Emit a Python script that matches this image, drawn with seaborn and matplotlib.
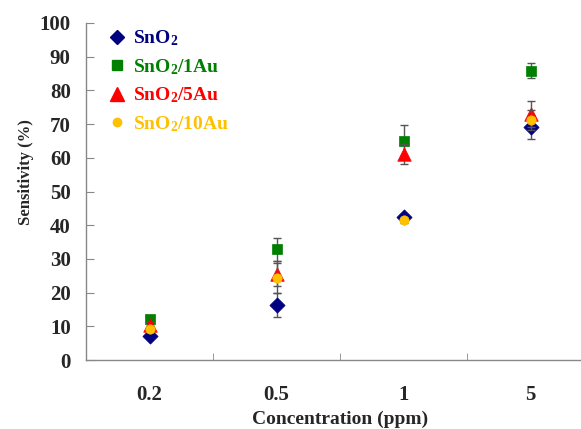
import matplotlib
matplotlib.use("Agg")
import matplotlib.pyplot as plt
import seaborn as sns
import pandas as pd
from matplotlib.lines import Line2D

categories = ["0.2", "0.5", "1", "5"]
series_names = ["SnO$_2$", "SnO$_2$/1Au", "SnO$_2$/5Au", "SnO$_2$/10Au"]
sno2 = [7.2, 16.3, 42.4, 69.0]
sno2_err = [0.8, 3.5, 0.8, 3.4]
au1 = [12.1, 32.8, 65.1, 85.8]
au1_err = [0.8, 3.5, 4.7, 2.2]
au5 = [10.5, 25.6, 61.2, 73.0]
au5_err = [0.8, 3.7, 3.0, 3.9]
au10 = [9.2, 24.3, 41.4, 71.2]
au10_err = [0.8, 4.5, 0.8, 3.0]

colors = ["#000080", "#008000", "#FF0000", "#FFC000"]
markers = ["D", "s", "^", "o"]
msizes = [60, 55, 95, 45]

sns.set_style("white")
plt.rcParams["font.family"] = ["Liberation Serif", "DejaVu Serif"]
plt.rcParams["font.weight"] = "bold"
plt.rcParams["mathtext.default"] = "regular"

rows = []
for name, vals, errs in zip(series_names, [sno2, au1, au5, au10],
                            [sno2_err, au1_err, au5_err, au10_err]):
    for c, v, e in zip(categories, vals, errs):
        rows.append({"Concentration": c, "Sensitivity": v, "err": e, "series": name})
df = pd.DataFrame(rows)

fig = plt.figure(figsize=(5.81, 4.29), dpi=100)
ax = fig.add_axes([86/581, 69/429, 508/581, 337/429])

for i, name in enumerate(series_names):
    sub = df[df["series"] == name]
    xpos = [categories.index(c) for c in sub["Concentration"]]
    ax.errorbar(xpos, sub["Sensitivity"], yerr=sub["err"], fmt="none",
                ecolor="#555555", elinewidth=1.0, capsize=3, capthick=1.0,
                zorder=2 + 2 * i)
    sns.scatterplot(data=sub, x="Concentration", y="Sensitivity", ax=ax,
                    marker=markers[i], color=colors[i], s=msizes[i],
                    edgecolor=colors[i], linewidth=0.5, zorder=3 + 2 * i,
                    legend=False)

ax.set_xlim(-0.5, len(categories) - 0.5)
ax.set_ylim(0, 100)
ax.set_yticks(range(0, 101, 10))
ax.set_xticks(range(len(categories)))
ax.set_xticklabels(categories)
ax.set_xticks([k + 0.5 for k in range(len(categories) - 1)], minor=True)

for s in ["top", "right"]:
    ax.spines[s].set_visible(False)
for s in ["left", "bottom"]:
    ax.spines[s].set_color("#888888")
    ax.spines[s].set_linewidth(1.0)

ax.tick_params(axis="y", direction="in", length=6, color="#888888",
               labelsize=15, pad=11, left=True)
ax.tick_params(axis="x", which="major", length=0, labelsize=15, pad=18)
ax.tick_params(axis="x", which="minor", direction="in", length=5,
               color="#888888", bottom=True)
for lab in ax.get_xticklabels() + ax.get_yticklabels():
    lab.set_fontweight("bold")

ax.set_xlabel("Concentration (ppm)", fontsize=14, fontweight="bold", labelpad=4)
ax.set_ylabel("Sensitivity (%)", fontsize=12, fontweight="bold")
ax.yaxis.set_label_coords(-0.103, 0.558)

handles = [Line2D([], [], linestyle="none", marker=m, color=c,
                  markersize=ms, markeredgecolor=c)
           for m, c, ms in zip(markers, colors, [7, 7, 10, 6])]
leg = ax.legend(handles, series_names, loc="upper left",
                bbox_to_anchor=(0.008, 1.035), frameon=False,
                prop={"family": "Liberation Serif", "weight": "bold", "size": 14},
                handlelength=1.0, handletextpad=0.3, labelspacing=0.45,
                labelcolor=colors)

fig.savefig("out.png", dpi=100)
